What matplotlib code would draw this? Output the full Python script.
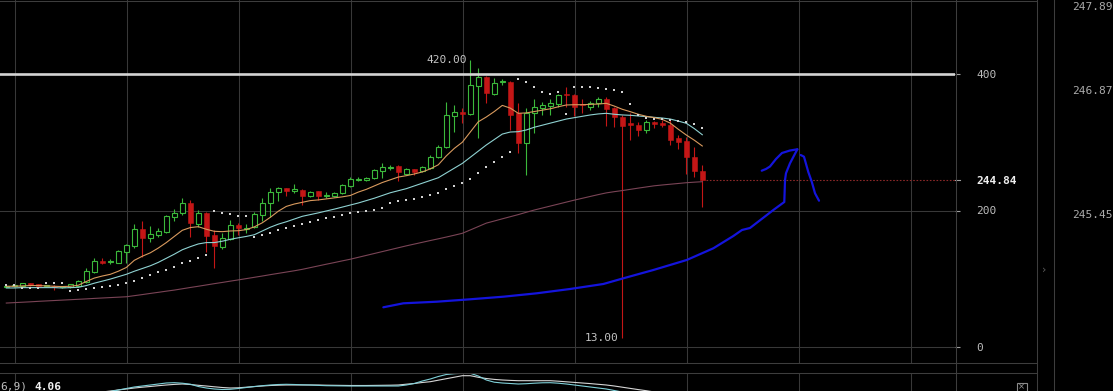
import numpy as np
import matplotlib
matplotlib.use("Agg")
import matplotlib.pyplot as plt
import matplotlib.transforms as mtransforms
from matplotlib.lines import Line2D
from matplotlib.patches import Rectangle

# ---------------- data ----------------
opens = [88.5, 89.0, 89.4, 93.3, 91.9, 89.4, 88.5, 88.0, 87.4, 89.4,
         95.7, 110.3, 126.4, 124.5, 123.5, 139.6, 148.4, 172.5, 159.3, 164.1,
         168.9, 190.9, 195.9, 211.4, 180.2, 196.8, 164.1, 147.0, 158.7, 178.3,
         173.0, 175.4, 193.4, 210.5, 227.5, 232.5, 229.0, 230.0, 221.7, 228.1,
         221.7, 221.2, 225.2, 236.3, 245.0, 244.7, 247.2, 258.3, 262.0, 265.2,
         253.5, 260.8, 258.3, 262.7, 278.8, 293.5, 338.9, 344.8, 341.4, 382.9,
         396.0, 370.7, 388.0, 388.7, 342.4, 299.3, 343.3, 350.6, 353.5, 356.0,
         369.8, 369.2, 355.5, 351.2, 357.0, 362.9, 349.7, 337.4, 327.8, 325.3,
         318.0, 330.1, 327.8, 325.3, 305.8, 302.3, 277.9, 258.3]
highs = [90.0, 90.5, 94.5, 94.5, 92.5, 90.5, 90.4, 89.0, 93.0, 97.5,
         115.3, 130.0, 130.0, 129.0, 141.5, 150.5, 180.2, 184.6, 177.7, 173.9,
         193.9, 201.7, 217.9, 215.4, 200.7, 198.0, 171.4, 167.5, 185.6, 181.2,
         180.2, 198.3, 217.9, 232.5, 234.9, 233.5, 238.8, 231.0, 229.0, 229.0,
         226.5, 227.5, 239.5, 249.1, 249.5, 248.5, 261.0, 269.2, 266.0, 266.0,
         262.0, 261.5, 265.0, 281.3, 296.0, 359.4, 354.6, 350.6, 420.0, 409.2,
         397.0, 393.7, 393.0, 389.5, 357.0, 349.7, 362.9, 359.4, 362.9, 370.7,
         381.4, 370.0, 363.0, 360.0, 366.7, 366.7, 352.1, 339.9, 342.4, 330.1,
         332.0, 331.0, 332.6, 332.6, 310.6, 308.1, 293.5, 266.7]
lows = [87.5, 88.0, 88.5, 89.5, 89.0, 88.0, 83.5, 87.0, 86.5, 88.5,
        94.5, 109.0, 121.6, 121.6, 122.6, 123.0, 144.6, 131.4, 154.3, 160.7,
        167.5, 185.0, 193.4, 161.6, 176.3, 139.6, 115.3, 143.6, 156.8, 164.1,
        166.6, 173.9, 185.0, 190.9, 214.4, 221.2, 225.2, 208.0, 220.0, 215.4,
        218.5, 220.0, 223.5, 235.0, 243.0, 243.5, 246.0, 247.2, 259.0, 243.2,
        252.0, 252.0, 257.0, 261.5, 276.5, 291.1, 315.5, 327.8, 339.9, 305.8,
        358.0, 369.2, 383.5, 318.0, 284.7, 252.0, 313.1, 339.9, 339.9, 352.1,
        352.1, 338.5, 343.0, 347.0, 352.1, 324.2, 322.8, 13.0, 303.3, 309.6,
        313.0, 321.3, 322.0, 296.0, 290.1, 253.5, 249.5, 205.6]
closes = [89.0, 89.5, 93.3, 90.4, 89.4, 89.6, 88.0, 88.3, 92.3, 96.3,
          111.8, 125.6, 123.5, 125.5, 140.7, 149.4, 172.5, 160.1, 165.6, 170.4,
          191.9, 196.8, 211.4, 181.2, 196.8, 162.6, 148.0, 159.7, 178.3, 174.8,
          175.0, 194.9, 210.5, 227.5, 232.5, 229.0, 231.5, 221.7, 227.5, 221.7,
          223.0, 226.1, 237.4, 246.2, 246.5, 247.1, 259.3, 264.2, 262.6, 255.9,
          260.8, 256.9, 263.7, 278.8, 293.5, 339.9, 344.8, 341.8, 383.9, 396.0,
          371.7, 387.3, 388.7, 339.9, 298.5, 343.3, 351.2, 355.0, 357.9, 369.2,
          368.5, 351.2, 354.0, 357.9, 363.4, 349.2, 336.5, 324.2, 325.3, 318.0,
          330.1, 326.3, 325.3, 303.3, 299.9, 277.9, 258.3, 244.84]

ema_fast = [89.0, 89.0, 89.5, 90.0, 90.0, 89.5, 89.0, 88.5, 89.0, 90.5,
            96.0, 101.0, 104.0, 106.5, 111.0, 116.5, 127.0, 133.0, 138.0, 145.0,
            153.0, 162.0, 171.0, 175.0, 176.3, 172.5, 169.5, 169.0, 170.0, 170.4,
            172.0, 176.0, 182.0, 190.0, 199.0, 206.0, 209.5, 212.0, 214.5, 215.5,
            217.0, 218.5, 220.0, 222.0, 227.0, 231.0, 236.0, 241.0, 245.0, 249.0,
            251.0, 253.5, 256.5, 261.0, 267.0, 280.0, 291.0, 300.0, 315.0, 330.0,
            337.0, 345.0, 354.0, 350.0, 342.4, 343.0, 345.0, 347.0, 349.0, 352.0,
            354.6, 355.0, 355.0, 355.5, 356.0, 357.0, 353.0, 348.3, 344.8, 341.0,
            338.0, 336.0, 333.5, 328.0, 319.0, 310.6, 303.0, 294.5]
ema_slow = [86.5, 86.5, 87.0, 87.0, 87.0, 87.0, 87.0, 86.5, 87.0, 87.5,
            90.0, 93.5, 96.5, 99.5, 103.0, 106.5, 111.0, 115.0, 119.0, 124.0,
            130.0, 136.0, 142.5, 147.0, 151.0, 153.0, 153.0, 155.0, 157.8, 160.0,
            162.0, 164.5, 170.0, 175.5, 180.0, 183.5, 187.5, 191.5, 194.0, 196.5,
            199.3, 202.0, 205.0, 208.0, 211.0, 214.5, 218.0, 222.0, 226.0, 229.0,
            232.0, 236.0, 240.0, 244.0, 248.0, 255.0, 262.0, 269.0, 278.0, 287.0,
            296.0, 304.0, 312.0, 315.0, 315.5, 318.0, 322.0, 325.0, 328.0, 331.0,
            334.0, 336.0, 338.0, 340.0, 341.5, 342.4, 341.0, 340.0, 339.5, 338.5,
            337.5, 336.5, 335.5, 334.0, 331.0, 327.8, 320.0, 311.0]
ma_long = [64.4, 65.0, 65.6, 66.2, 66.9, 67.5, 68.1, 68.7, 69.3, 69.9,
           70.5, 71.2, 71.8, 72.4, 73.0, 73.6, 75.2, 76.8, 78.5, 80.1,
           81.8, 83.4, 85.3, 87.2, 89.0, 90.9, 92.8, 94.6, 96.5, 98.3,
           100.2, 102.1, 104.0, 106.0, 107.9, 109.8, 111.7, 113.8, 116.3, 118.8,
           121.3, 123.7, 126.2, 128.6, 131.4, 134.2, 137.0, 139.8, 142.6, 145.4,
           148.2, 150.8, 153.4, 156.0, 158.5, 161.1, 163.8, 166.6, 171.5, 176.5,
           181.5, 184.6, 187.8, 190.9, 194.0, 197.4, 200.7, 203.6, 206.5, 209.4,
           212.3, 215.2, 217.9, 220.6, 223.3, 225.8, 227.6, 229.2, 231.0, 232.8,
           234.5, 236.2, 237.4, 238.5, 239.6, 240.7, 241.5, 242.2]
sar = [90.8, 90.8, 86.0, 86.0, 86.0, 93.8, 93.8, 93.8, 82.5, 83.5,
       84.5, 86.0, 87.5, 89.4, 91.3, 94.2, 97.1, 101.5, 105.5, 109.5,
       112.8, 117.7, 122.6, 126.4, 130.8, 134.8, 199.7, 196.8, 194.4, 192.4,
       192.0, 161.0, 164.1, 167.5, 171.4, 174.8, 177.7, 180.2, 183.0, 186.0,
       188.5, 191.0, 193.5, 195.9, 198.0, 199.7, 200.7, 203.7, 211.4, 213.4,
       215.4, 217.3, 219.3, 222.7, 226.1, 231.5, 236.0, 240.7, 246.4, 255.4,
       264.2, 271.0, 278.8, 285.0, 392.7, 387.8, 381.4, 374.1, 370.5, 373.0,
       341.0, 380.5, 380.5, 380.5, 379.5, 378.5, 377.0, 373.0, 355.6, 340.0,
       335.0, 334.0, 333.6, 332.6, 331.1, 329.5, 326.7, 321.3]

macd_vals = [-4, -4, -4, -4, -4, -4, -4, -3.5, -3.5, -3, -2.5, -2, -1.5,
             -0.5, 1, 2.5, 4, 5, 6, 7, 8, 8.3, 7.8,
             6.8, 4.5, 3, 2, 1.5, 1.7, 2.5, 3.5, 4.5, 5.3,
             6, 6.5, 6.7, 6.5, 6.2, 6, 5.6, 5.3, 5.2, 5.1,
             5, 5, 5, 5, 5, 5, 5, 6, 7.5, 10,
             12, 14.5, 16.5, 17.3, 17.7, 17.7, 15, 11, 8.8, 8,
             7.5, 7, 7.3, 7.8, 8.2, 8.3, 7.8, 7, 6, 5,
             4, 3, 2, 0.5, -1, -2, -3, -3.5, -4, -4.5,
             -5, -5.5, -6, -6.5, -7]
signal_vals = [-4, -4, -4, -4, -4, -4, -4, -3.5, -3.5, -3, -2.5, -2, -1,
               0, 1, 2, 3, 3.8, 4.5, 5.3, 6, 6.6, 7,
               6.5, 5.7, 5, 4.2, 3.5, 3, 3.2, 3.8, 4.4, 5,
               5.5, 5.8, 6, 6, 6, 6, 6, 5.8, 5.7, 5.6,
               5.5, 5.5, 5.5, 5.6, 5.7, 5.8, 6, 6.8, 7.5, 8.5,
               9.3, 10.8, 12.3, 13.8, 15.3, 15.3, 13.7, 12.5, 11.6, 11,
               10.6, 10.3, 10.3, 10.3, 10.3, 10.3, 9.8, 9.2, 8.6, 8,
               7.4, 6.7, 6, 5, 3.8, 2.6, 1.4, 0.3, -1, -2,
               -3, -4, -5, -6, -7]

# hand-drawn blue annotation (candle index, price)
stroke_x = [47.13, 49.63, 53.80, 57.96, 62.13, 66.30, 70.46, 74.63, 77.13, 80.88,
            85.05, 88.38, 90.88, 91.96, 92.96, 95.88, 97.25, 97.34, 97.46, 97.96, 98.88]
stroke_y = [58.17, 64.03, 66.37, 69.89, 73.70, 78.68, 84.98, 92.31, 100.66, 112.82,
            127.47, 144.62, 162.64, 171.43, 174.36, 200.73, 212.45, 244.69, 254.51, 269.16, 289.67]
hook_x = [98.88, 97.96, 96.96, 96.21, 95.46, 94.96, 94.43]
hook_y = [289.67, 287.91, 284.25, 275.46, 264.47, 260.81, 258.32]
tail_x = [99.30, 99.71, 100.25, 100.68, 101.09, 101.59]
tail_y = [281.30, 278.83, 256.41, 242.20, 225.20, 214.36]

axis_ticks = [0, 200, 400]
resistance = 400
side_values = [247.89, 246.87, 245.45]
macd_label = "6,9)"
macd_value = "4.06"

# ---------------- layout ----------------
W, H = 1113, 391
fig = plt.figure(figsize=(W / 100, H / 100), dpi=100, facecolor='black')


def fx(px):
    return px / W


def fy(py):
    return 1 - py / H


MONO = 'DejaVu Sans Mono'
GRID = '#383838'
FRAME = '#3d3d3d'
GREEN = '#3bb83b'
RED = '#c41616'

n = len(closes)
idx = np.arange(n)
px_per_candle = 8.0
first_px = 6.3
ppu = 0.6825      # pixels per price unit
zero_px = 347.0

ax = fig.add_axes([0, fy(363), fx(955), 363 / H])
ax.set_facecolor('black')
xlim = (-first_px / px_per_candle, (955 - first_px) / px_per_candle)
ax.set_xlim(*xlim)
ax.set_ylim(-(363 - zero_px) / ppu, zero_px / ppu)

grid_x = np.arange(1.05, xlim[1], 14)
ax.set_xticks(grid_x)
ax.tick_params(axis='x', length=0, labelbottom=False)
ax.set_yticks(axis_ticks)
ax.set_yticklabels([str(t) for t in axis_ticks])
ax.yaxis.tick_right()
ax.tick_params(axis='y', length=3.6, width=0.8, color='#a0a0a0', pad=11.5,
               labelsize=8, labelcolor='#bcbcbc')
for lab in ax.get_yticklabels():
    lab.set_fontfamily(MONO)
ax.grid(True, color=GRID, lw=0.75)
ax.set_axisbelow(True)
for s in ax.spines.values():
    s.set_visible(False)

# candles
o = np.array(opens)
c = np.array(closes)
h = np.array(highs)
l = np.array(lows)
up = c >= o
cols = np.where(up, GREEN, RED)
ax.vlines(idx, l, h, colors=cols, lw=0.8, zorder=3)
body_lo = np.minimum(o, c)
body_h = np.maximum(np.abs(c - o), 1.6)
ax.bar(idx[up], body_h[up], bottom=body_lo[up], width=0.6, facecolor='black',
       edgecolor=GREEN, linewidth=0.8, zorder=4)
ax.bar(idx[~up], body_h[~up], bottom=body_lo[~up], width=0.6, facecolor=RED,
       edgecolor=RED, linewidth=0.4, zorder=4)

# indicators
ax.plot(idx, ma_long, color='#7a4456', lw=0.8, zorder=5)
ax.plot(idx, ema_slow, color='#8fd2d2', lw=0.8, zorder=5)
ax.plot(idx, ema_fast, color='#d99a5e', lw=0.8, zorder=5)
ax.scatter(idx, sar, marker='s', s=2.2, color='#d2d2d2', linewidths=0, zorder=5)

ax.axhline(resistance, color='#d4d4d4', lw=1.9, zorder=6)
ax.hlines(c[-1], n - 0.5, xlim[1], colors='#8c2828', linestyles=(0, (1.5, 1.5)),
          lw=0.8, zorder=2)

# hand drawing
for xs, ys in ((stroke_x, stroke_y), (hook_x, hook_y), (tail_x, tail_y)):
    ax.plot(xs, ys, color='#1414dc', lw=1.6, solid_capstyle='round',
            solid_joinstyle='round', zorder=7)

# extreme labels
kh = int(np.argmax(h))
kl = int(np.argmin(l))
ax.annotate(f"{h[kh]:.2f}", xy=(kh, h[kh]), xytext=(-2.3, 0), textcoords='offset points',
            ha='right', va='center', color='#c4c4c4', fontsize=8, family=MONO, zorder=8)
ax.annotate(f"{l[kl]:.2f}", xy=(kl, l[kl]), xytext=(-2.6, 0), textcoords='offset points',
            ha='right', va='center', color='#c4c4c4', fontsize=8, family=MONO, zorder=8)

# last price marker on axis
trans = mtransforms.blended_transform_factory(ax.transAxes, ax.transData)
ax.plot([1.0, 1.0 + 5 / 955], [c[-1], c[-1]], transform=trans, color='#a0a0a0',
        lw=0.8, clip_on=False)
ax.annotate(f"{c[-1]:.2f}", xy=(1.0, c[-1]), xycoords=trans, xytext=(15.1, 0),
            textcoords='offset points', ha='left', va='center_baseline', color='#eeeeee',
            fontsize=8, fontweight='bold', family=MONO, annotation_clip=False)

# oscillator pane
ax2 = fig.add_axes([0, 0, fx(955), 18 / H])
ax2.set_facecolor('black')
ax2.set_xlim(*xlim)
ax2.set_ylim(0, 18)
ax2.set_xticks(grid_x)
ax2.set_yticks([])
ax2.tick_params(length=0, labelbottom=False)
ax2.grid(axis='x', color=GRID, lw=0.75)
ax2.set_axisbelow(True)
for s in ax2.spines.values():
    s.set_visible(False)
ax2.plot(idx, signal_vals, color='#d6d6d6', lw=0.8)
ax2.plot(idx, macd_vals, color='#7fd0d8', lw=0.8)

fig.text(fx(0.5), fy(389.5), macd_label, family=MONO, fontsize=8, color='#bdbdbd',
         ha='left', va='baseline')
fig.text(fx(34), fy(389.5), macd_value, family=MONO, fontsize=8, color='#f2f2f2',
         fontweight='bold', ha='left', va='baseline')

# right side panel
ax3 = fig.add_axes([fx(1054), 0, fx(1113 - 1054), 1])
ax3.set_facecolor('black')
top_v = 246.87 + 90 / 87.0
ax3.set_ylim(246.87 - 301 / 87.0, top_v)
ax3.set_xlim(0, 1)
ax3.axis('off')
t3 = mtransforms.blended_transform_factory(ax3.transAxes, ax3.transData)
for v in side_values:
    ax3.text((1072 - 1054) / 59, min(v, top_v - 6.5 / 87.0), f"{v:.2f}", transform=t3,
             ha='left', va='center_baseline', color='#ababab', fontsize=8, family=MONO,
             clip_on=False)


def fline(x1, y1, x2, y2, color=FRAME, lw=0.75):
    fig.add_artist(Line2D([fx(x1), fx(x2)], [fy(y1), fy(y2)], color=color, lw=lw,
                          transform=fig.transFigure))


fline(955.5, 0, 955.5, 391)
fline(1036.5, 0, 1036.5, 391)
fline(1053.5, 0, 1053.5, 391)
fline(0, 363, 1036.5, 363)
fline(0, 373, 1036.5, 373)
fline(0, 0.5, 1036.5, 0.5)

fig.text(fx(1044), fy(270), '\u203a', color='#5a5a5a', fontsize=8, ha='center', va='center')
fig.add_artist(Rectangle((fx(1016.5), fy(392)), fx(10.5), 9.5 / H, transform=fig.transFigure,
                         fill=False, edgecolor='#8a8a8a', lw=0.8))
fig.text(fx(1021.8), fy(387), '\u00d7', color='#9a9a9a', fontsize=6, ha='center', va='center')

fig.savefig('out.png', dpi=100, facecolor='black')
